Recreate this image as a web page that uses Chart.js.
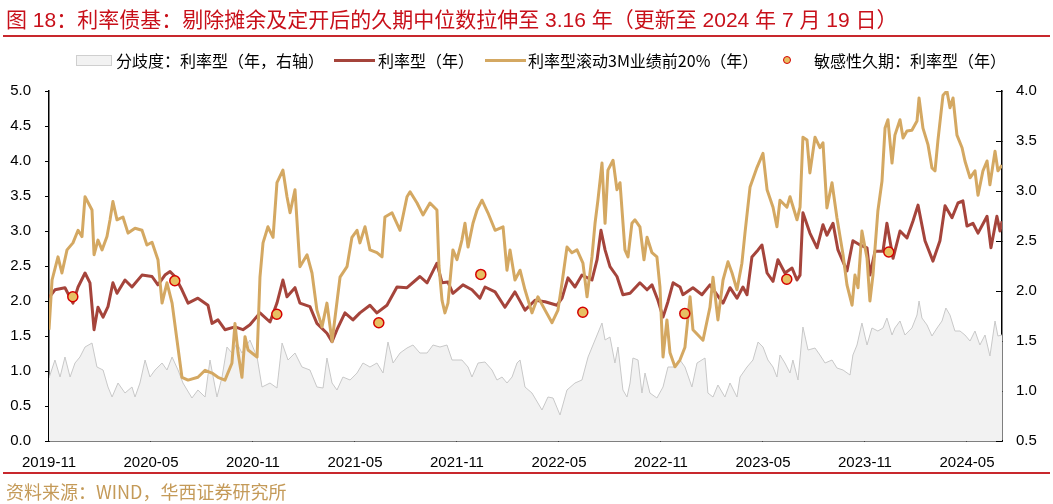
<!DOCTYPE html>
<html>
<head>
<meta charset="utf-8">
<script src="https://cdn.jsdelivr.net/npm/chart.js@4.4.1/dist/chart.umd.min.js"></script>
<style>
  body { margin:0; background:#fff; width:1053px; height:504px; position:relative; overflow:hidden;
         font-family:"Noto Sans CJK SC", sans-serif; }
  #chart { position:absolute; left:0; top:0; }
  .title { position:absolute; left:6px; top:3px; font-size:21px; color:#c8101a; white-space:nowrap;
           font-family:"Liberation Sans","Noto Sans CJK SC",sans-serif; }
  .rule { position:absolute; left:3px; width:1047px; height:2px; background:#c8282d; }
  .lg { position:absolute; top:50px; font-size:16px; line-height:20px; color:#000; white-space:nowrap; }
  .sw { position:absolute; }
  .src { position:absolute; left:6px; top:478px; font-size:18px; color:#c49a58; white-space:nowrap; }
</style>
</head>
<body>
<canvas id="chart" width="1053" height="504"></canvas>
<div class="title">图 18：利率债基：剔除摊余及定开后的久期中位数拉伸至 3.16 年（更新至 2024 年 7 月 19 日）</div>
<div class="rule" style="top:35px"></div>

<div class="sw" style="left:76px;top:55px;width:34px;height:9px;background:#f2f2f2;border:1px solid #cfcfcf"></div>
<div class="lg" style="left:116px">分歧度：利率型（年，右轴）</div>
<div class="sw" style="left:334px;top:59px;width:41px;height:3px;background:#a5443b"></div>
<div class="lg" style="left:378px">利率型（年）</div>
<div class="sw" style="left:485px;top:59px;width:41px;height:3px;background:#d4a862"></div>
<div class="lg" style="left:528px">利率型滚动3M业绩前20%（年）</div>
<div class="sw" style="left:783px;top:56px;width:6px;height:6px;border-radius:50%;background:#e7c063;border:1.5px solid #d40000"></div>
<div class="lg" style="left:814px">敏感性久期：利率型（年）</div>

<div class="rule" style="top:472px"></div>
<div class="src">资料来源：WIND，华西证券研究所</div>

<script>
// 横轴：月份序号，2019-11 = 0，每 6 个月一个刻度
const TICK_POS    = [0, 6, 12, 18, 24, 30, 36, 42, 48, 54];
const TICK_LABELS = ['2019-11','2020-05','2020-11','2021-05','2021-11','2022-05','2022-11','2023-05','2023-11','2024-05'];
const X_MAX = 56.06;   // 2024-07-19

// 利率型（年）
const rateT = [
  0,0.35,0.94,1.41,1.71,2.12,2.41,2.65,2.88,3.18,3.47,3.76,4.0,4.47,4.88,5.47,6.06,6.41,6.82,7.12,
  7.41,7.82,8.18,8.76,9.35,9.59,9.94,10.35,10.94,11.41,11.82,12.41,13.0,13.41,13.76,14.0,14.47,14.76,15.35,15.76,
  16.35,16.65,16.94,17.41,17.88,18.29,18.88,19.29,19.88,20.47,21.06,21.82,22.24,22.82,23.12,23.47,23.76,24.35,24.88,25.35,
  25.65,26.24,26.82,27.41,28.0,28.59,29.18,29.88,30.18,30.53,30.94,31.35,31.94,32.24,32.47,32.71,33.0,33.41,33.76,34.18,
  34.76,35.18,35.47,35.82,36.12,36.41,36.71,37.12,37.29,37.88,38.41,38.88,39.29,39.65,40.06,40.47,40.82,41.06,41.35,41.71,
  41.94,42.24,42.59,42.88,43.29,43.71,44.0,44.18,44.35,44.76,45.18,45.53,45.76,46.12,46.41,46.94,47.29,47.71,48.12,48.29,
  48.59,49.06,49.29,49.65,50.06,50.47,50.82,51.12,51.53,52.0,52.41,52.71,53.12,53.47,53.76,54.0,54.35,54.65,55.18,55.41,
  55.76,55.94,56.06
];
const rateV = [
  2.05,2.16,2.19,1.97,2.20,2.40,2.26,1.59,1.91,1.77,1.92,2.26,2.11,2.30,2.20,2.37,2.35,2.23,2.37,2.42,
  2.35,2.16,1.97,2.04,1.94,1.68,1.73,1.59,1.63,1.59,1.66,1.83,1.70,1.97,2.30,2.06,2.19,1.97,1.92,1.68,
  1.54,1.42,1.59,1.83,1.73,1.83,1.94,1.83,1.94,2.20,2.19,2.35,2.26,2.54,2.26,2.27,2.11,2.23,2.16,2.04,
  2.20,2.13,1.91,2.13,1.87,2.01,1.99,1.94,2.04,2.33,2.20,2.37,2.30,2.59,3.01,2.73,2.49,2.35,2.09,2.11,
  2.26,2.16,2.23,2.01,1.77,1.99,2.26,2.20,2.09,2.19,2.09,2.23,2.09,1.97,2.19,2.04,2.20,2.09,2.63,2.73,
  2.80,2.40,2.28,2.59,2.40,2.47,2.30,2.37,3.26,2.97,2.76,3.09,2.94,3.11,2.73,2.43,2.86,2.80,2.76,2.37,
  2.71,2.71,3.11,2.61,3.00,2.90,3.14,3.37,2.86,2.57,2.86,3.36,3.19,3.40,3.43,3.07,3.11,2.97,3.21,2.76,
  3.21,3.00,3.14
];

// 利率型滚动3M业绩前20%（年）
const top20T = [
  0,0.18,0.53,0.76,1.06,1.41,1.71,1.94,2.12,2.53,2.65,2.88,3.12,3.41,3.59,3.76,4.0,4.35,4.65,5.06,
  5.47,5.76,6.06,6.41,6.65,6.94,7.24,7.53,7.82,8.18,8.76,9.18,9.59,9.94,10.35,10.76,10.94,11.12,11.35,11.53,
  11.71,12.24,12.41,12.59,12.88,13.18,13.41,13.76,14.0,14.18,14.47,14.76,15.18,15.47,15.76,16.06,16.35,16.65,17.12,17.53,
  17.82,18.12,18.29,18.59,18.88,19.29,19.59,19.76,20.18,20.65,21.06,21.24,21.65,22.0,22.41,22.82,22.94,23.12,23.29,23.47,
  23.76,24.0,24.29,24.47,24.65,24.94,25.18,25.47,25.82,26.24,26.71,26.94,27.12,27.41,27.71,28.0,28.41,28.76,29.18,29.59,
  29.94,30.18,30.47,30.76,31.06,31.41,31.65,31.94,32.12,32.29,32.53,32.71,32.88,33.18,33.41,33.59,33.88,34.06,34.29,34.47,
  34.76,35.0,35.18,35.47,35.76,35.94,36.12,36.35,36.53,36.82,37.12,37.41,37.71,37.88,38.47,38.88,39.06,39.35,39.65,39.94,
  40.18,40.47,40.76,40.94,41.24,41.65,42.0,42.24,42.59,42.82,43.0,43.41,43.59,44.0,44.18,44.35,44.59,44.76,45.06,45.35,
  45.53,45.76,46.06,46.35,46.71,46.94,47.24,47.41,47.59,47.82,48.12,48.29,48.47,48.76,49.0,49.18,49.35,49.59,49.76,50.06,
  50.24,50.47,50.76,51.06,51.18,51.41,51.71,51.94,52.12,52.29,52.59,52.82,53.0,53.18,53.41,53.71,53.88,54.18,54.47,54.65,
  54.94,55.18,55.35,55.65,55.82,56.06
];
const top20V = [
  1.59,2.30,2.63,2.40,2.73,2.83,3.01,2.92,3.49,3.30,2.66,2.87,2.73,2.92,3.16,3.42,3.16,3.20,2.97,3.04,
  3.01,2.80,2.84,2.59,1.97,2.26,1.97,1.44,0.91,0.87,0.91,1.01,0.97,0.91,0.87,1.11,1.68,1.26,0.91,1.49,
  1.30,1.20,2.34,2.83,3.06,2.91,3.69,3.87,3.49,3.26,3.59,2.49,2.66,2.40,1.87,1.63,1.97,1.42,2.34,2.49,
  2.91,3.01,2.83,3.06,2.73,2.69,2.63,3.20,3.26,3.01,3.49,3.56,3.40,3.23,3.40,3.30,2.50,2.01,1.83,1.97,
  2.73,2.59,2.87,3.11,2.77,3.11,3.30,3.44,3.26,3.01,3.06,2.44,2.73,2.30,2.44,2.16,1.83,2.06,1.87,1.69,
  1.87,2.26,2.77,2.69,2.73,2.54,2.06,2.63,3.11,3.44,3.97,3.11,3.87,4.01,3.59,3.69,2.73,2.63,3.11,3.16,
  3.06,2.59,2.91,2.69,2.63,2.20,1.20,1.73,1.26,1.06,1.16,1.34,2.06,1.59,1.44,1.91,2.34,1.73,2.30,2.56,
  2.40,2.16,2.54,2.97,3.63,3.91,4.11,3.59,3.34,3.06,3.44,3.34,3.49,3.16,3.34,4.34,4.30,3.83,4.34,4.19,
  4.26,3.33,3.69,3.19,2.66,2.23,1.94,2.37,2.19,3.00,2.61,2.00,2.37,3.29,3.71,4.47,4.59,3.97,4.37,4.59,
  4.33,4.43,4.44,4.57,4.90,4.47,4.23,3.90,3.86,4.29,4.94,5.00,4.76,4.90,4.37,4.19,4.00,3.76,3.86,3.51,
  3.86,4.00,3.66,4.14,3.86,3.94
];

// 分歧度：利率型（年，右轴）
const spreadT = [
  0,0.35,0.65,0.94,1.24,1.53,1.82,2.12,2.53,2.82,3.18,3.47,3.71,4.06,4.47,4.88,5.06,5.35,5.65,5.94,
  6.24,6.65,6.94,7.24,7.59,7.88,8.41,8.76,9.18,9.47,9.88,10.18,10.47,10.76,11.06,11.35,11.82,12.24,12.53,13.0,
  13.41,13.71,14.06,14.47,14.88,15.35,15.76,16.12,16.35,16.65,16.94,17.29,17.71,18.12,18.47,18.88,19.29,19.65,19.94,20.24,
  20.65,21.06,21.41,21.82,22.24,22.59,23.0,23.41,23.71,24.29,24.65,24.88,25.24,25.65,26.06,26.35,26.65,26.94,27.24,27.53,
  27.71,28.0,28.41,28.76,29.0,29.35,29.65,30.06,30.47,30.94,31.35,31.71,32.12,32.53,32.71,33.0,33.29,33.47,33.76,34.0,
  34.18,34.35,34.65,34.88,35.06,35.35,35.76,36.12,36.41,36.82,37.12,37.41,37.82,38.12,38.59,38.76,39.06,39.35,39.76,40.06,
  40.47,40.65,41.06,41.41,41.71,42.0,42.29,42.59,42.82,43.0,43.29,43.59,43.76,44.06,44.35,44.65,45.06,45.35,45.65,46.06,
  46.35,46.71,47.12,47.29,47.53,47.82,48.12,48.41,48.76,49.06,49.29,49.59,49.76,50.06,50.35,50.76,51.06,51.18,51.35,51.65,
  51.94,52.24,52.53,52.76,53.0,53.29,53.59,53.88,54.18,54.47,54.76,55.06,55.35,55.65,55.82,56.06
];
const spreadV = [
  1.13,1.31,1.14,1.34,1.14,1.28,1.34,1.44,1.48,1.24,1.21,1.04,0.94,1.08,0.98,1.04,0.94,1.08,1.31,1.14,
  1.21,1.28,1.21,1.34,1.21,1.08,0.93,1.01,0.94,1.31,0.94,1.14,1.44,1.38,1.48,1.38,1.51,1.34,1.04,1.08,
  1.03,1.48,1.31,1.38,1.24,1.21,1.04,1.03,1.33,1.08,1.01,1.14,1.11,1.18,1.28,1.24,1.28,1.18,1.49,1.28,
  1.38,1.43,1.46,1.38,1.38,1.46,1.44,1.46,1.31,1.31,1.24,1.14,1.28,1.29,1.21,1.11,1.14,1.08,1.14,1.28,
  1.31,1.04,0.98,0.88,0.81,0.94,0.93,0.76,1.01,1.08,1.11,1.34,1.51,1.68,1.51,1.54,1.28,1.44,1.01,0.94,
  1.08,1.33,1.31,0.98,1.18,0.98,0.93,1.04,1.24,1.24,1.31,1.24,1.04,1.28,1.33,0.98,0.94,1.06,0.94,1.08,
  0.94,1.14,1.24,1.31,1.49,1.44,1.31,1.24,1.14,1.36,1.28,1.18,1.31,1.11,1.64,1.41,1.43,1.36,1.28,1.31,
  1.23,1.21,1.16,1.36,1.46,1.68,1.46,1.63,1.60,1.63,1.73,1.56,1.63,1.70,1.56,1.63,1.76,1.90,1.73,1.66,
  1.55,1.63,1.70,1.83,1.76,1.60,1.60,1.56,1.50,1.60,1.46,1.56,1.35,1.70,1.55,1.56
];

// 敏感性久期：利率型（年），半年一个点
const sensT = [1.4, 7.4, 13.4, 19.4, 25.4, 31.4, 37.4, 43.4, 49.4];
const sensV = [2.06, 2.29, 1.81, 1.69, 2.38, 1.84, 1.82, 2.31, 2.70];

const pts = (ts, vs) => ts.map((t, i) => ({ x: t, y: vs[i] }));

const tickFont = { family: '"Liberation Sans", Arial, sans-serif', size: 15 };

new Chart(document.getElementById('chart'), {
  type: 'line',
  data: {
    datasets: [
      { label:'分歧度', data: pts(spreadT, spreadV), yAxisID:'y2', borderColor:'#c8c8c8', borderWidth:1,
        backgroundColor:'#f2f2f2', fill:'start', pointRadius:0, tension:0, order:4 },
      { label:'利率型', data: pts(rateT, rateV), yAxisID:'y', borderColor:'#a5443b', borderWidth:3,
        borderJoinStyle:'round', pointRadius:0, tension:0, fill:false, order:3 },
      { label:'前20%', data: pts(top20T, top20V), yAxisID:'y', borderColor:'#d4a862', borderWidth:3,
        borderJoinStyle:'round', pointRadius:0, tension:0, fill:false, order:2 },
      { type:'scatter', label:'敏感性久期', data: pts(sensT, sensV), yAxisID:'y',
        pointRadius:5, pointBackgroundColor:'#e7c063', pointBorderColor:'#d40000', pointBorderWidth:1.5, order:1 }
    ]
  },
  options: {
    responsive:false, animation:false,
    layout:{ padding:{ top:91, bottom:34, left:0, right:0 } },
    plugins:{ legend:{ display:false }, tooltip:{ enabled:false } },
    scales:{
      x:{
        type:'linear', min:0, max:X_MAX,
        afterBuildTicks: s => { s.ticks = TICK_POS.map(v => ({ value:v })); },
        afterFit: s => { s.height = 29; },
        ticks:{ color:'#000', font:tickFont, padding:19, maxRotation:0, autoSkip:false,
                callback: v => TICK_LABELS[TICK_POS.indexOf(v)] },
        grid:{ drawOnChartArea:false, drawTicks:true, tickLength:-6, color:'#000', lineWidth:1 },
        border:{ display:true, color:'#000', width:1.5 }
      },
      y:{
        position:'left', min:0, max:5,
        afterFit: s => { s.width = 49; },
        ticks:{ stepSize:0.5, color:'#000', font:tickFont, padding:14, callback: v => v.toFixed(1) },
        grid:{ drawOnChartArea:false, drawTicks:true, tickLength:4, color:'#000', lineWidth:1 },
        border:{ display:true, color:'#000', width:1.5 }
      },
      y2:{
        position:'right', min:0.5, max:4.0,
        afterFit: s => { s.width = 51; },
        ticks:{ stepSize:0.5, color:'#000', font:tickFont, padding:20, callback: v => v.toFixed(1) },
        grid:{ drawOnChartArea:false, drawTicks:true, tickLength:-6, color:'#000', lineWidth:1 },
        border:{ display:true, color:'#000', width:1.5 }
      }
    }
  }
});
</script>
</body>
</html>
